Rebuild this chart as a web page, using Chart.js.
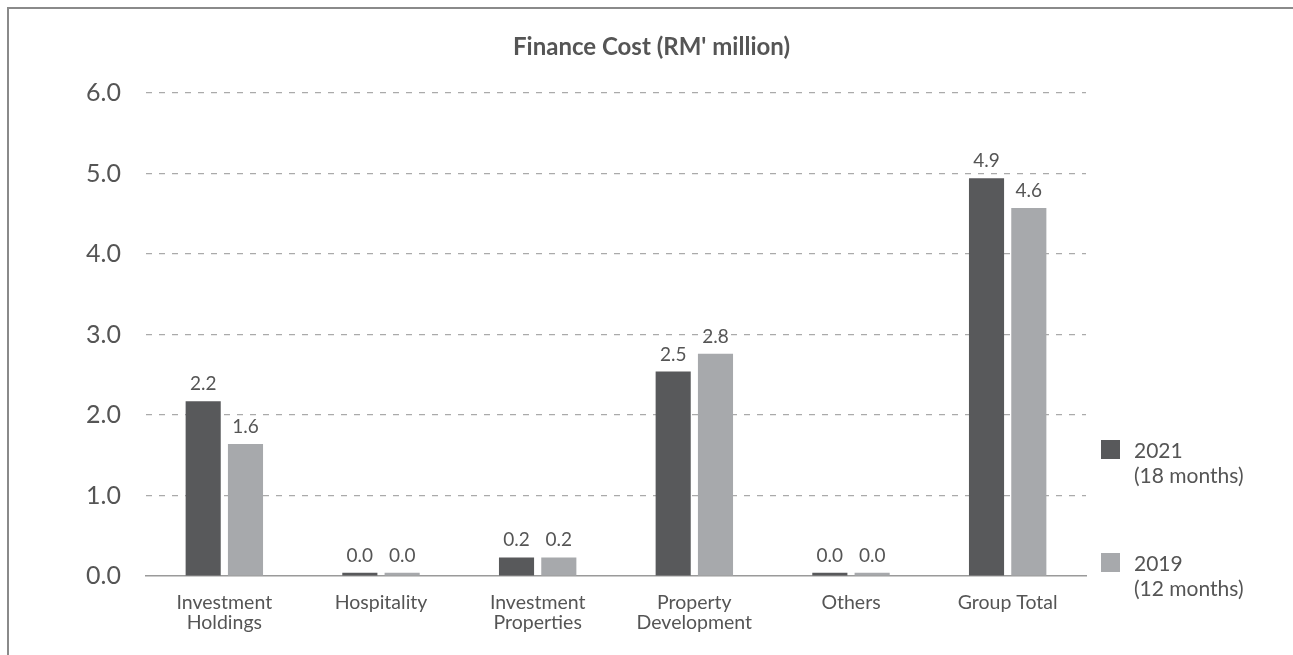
<!DOCTYPE html>
<html>
<head>
<meta charset="utf-8">
<script src="https://cdn.jsdelivr.net/npm/chart.js@4.4.1/dist/chart.umd.min.js"></script>
<style>
    html, body { margin: 0; padding: 0; background: #fff; overflow: hidden; }
    #frame {
        position: absolute; left: 7px; top: 7px;
        width: 1400px; height: 800px;
        border: 2px solid #8a8a8a;
    }
    #wrap { position: absolute; left: 0; top: 0; width: 1293px; height: 655px; }
</style>
</head>
<body>
<div id="frame"></div>
<div id="wrap"><canvas id="myChart"></canvas></div>
<script>
const categories = [
    ['Investment', 'Holdings'],
    'Hospitality',
    ['Investment', 'Properties'],
    ['Property', 'Development'],
    'Others',
    'Group Total'
];
const finance2021 = [2.17, 0.04, 0.23, 2.54, 0.04, 4.94];
const finance2019 = [1.64, 0.04, 0.23, 2.76, 0.04, 4.57];
const seriesNames = [['2021', '(18 months)'], ['2019', '(12 months)']];
const yTicks = [0, 1, 2, 3, 4, 5, 6];
const chartTitle = "Finance Cost (RM' million)";

const textColor = '#555';
const fontFamily = 'Lato, "Open Sans", sans-serif';

// title centred on the whole canvas
const centreTitle = {
    id: 'centreTitle',
    afterDraw(chart) {
        const c = chart.ctx;
        c.save();
        c.font = 'bold 24px ' + fontFamily;
        c.fillStyle = textColor;
        c.textAlign = 'center';
        c.textBaseline = 'middle';
        c.fillText(chartTitle, chart.width / 2 + 5, 47);
        c.restore();
    }
};

// value labels above each bar
const valueLabels = {
    id: 'valueLabels',
    afterDatasetsDraw(chart) {
        const c = chart.ctx;
        c.save();
        c.font = '19px ' + fontFamily;
        c.fillStyle = textColor;
        c.textAlign = 'center';
        c.textBaseline = 'alphabetic';
        chart.data.datasets.forEach((ds, i) => {
            chart.getDatasetMeta(i).data.forEach((bar, j) => {
                c.fillText(ds.data[j].toFixed(1), bar.x, bar.y - 11);
            });
        });
        c.restore();
    }
};

// legend on the right with two-line labels
const sideLegend = {
    id: 'sideLegend',
    afterDraw(chart) {
        const c = chart.ctx;
        const area = chart.chartArea;
        const x = area.right + 15;
        const rows = [440, 553];
        c.save();
        c.font = '21px ' + fontFamily;
        c.textBaseline = 'middle';
        c.textAlign = 'left';
        chart.data.datasets.forEach((ds, i) => {
            const y = rows[i];
            c.fillStyle = ds.backgroundColor;
            c.fillRect(x, y, 19, 19);
            c.fillStyle = textColor;
            ds.label.forEach((line, k) => {
                c.fillText(line, x + 33, y + 11 + k * 25);
            });
        });
        c.restore();
    }
};

new Chart(document.getElementById('myChart'), {
    type: 'bar',
    data: {
        labels: categories,
        datasets: [
            {
                label: seriesNames[0],
                data: finance2021,
                backgroundColor: '#58595b',
                categoryPercentage: 0.54,
                barPercentage: 0.83
            },
            {
                label: seriesNames[1],
                data: finance2019,
                backgroundColor: '#a7a9ac',
                categoryPercentage: 0.54,
                barPercentage: 0.83
            }
        ]
    },
    options: {
        responsive: true,
        maintainAspectRatio: false,
        animation: false,
        layout: { padding: { left: 0, right: 207, top: 93, bottom: 0 } },
        plugins: {
            legend: { display: false },
            tooltip: { enabled: false },
            title: { display: false }
        },
        scales: {
            x: {
                grid: { display: false, drawTicks: false },
                border: { display: true, color: '#9a9a9a', width: 1.5 },
                ticks: {
                    color: textColor,
                    font: { family: fontFamily, size: 19.5, lineHeight: 1.02 },
                    padding: 17,
                    maxRotation: 0,
                    autoSkip: false
                },
                afterFit(scale) { scale.height = 79; }
            },
            y: {
                min: yTicks[0],
                max: yTicks[yTicks.length - 1],
                afterBuildTicks(scale) {
                    scale.ticks = yTicks.map(v => ({ value: v }));
                },
                grid: {
                    drawTicks: false,
                    color: ctx => ctx.tick && ctx.tick.value === 0 ? 'rgba(0,0,0,0)' : '#aaa',
                    lineWidth: 1.2
                },
                border: { display: false, dash: [6, 7] },
                ticks: {
                    color: textColor,
                    font: { family: fontFamily, size: 25 },
                    padding: 25,
                    callback: v => Number(v).toFixed(1)
                },
                afterFit(scale) { scale.width = 146; }
            }
        }
    },
    plugins: [valueLabels, sideLegend, centreTitle]
});
</script>
</body>
</html>
